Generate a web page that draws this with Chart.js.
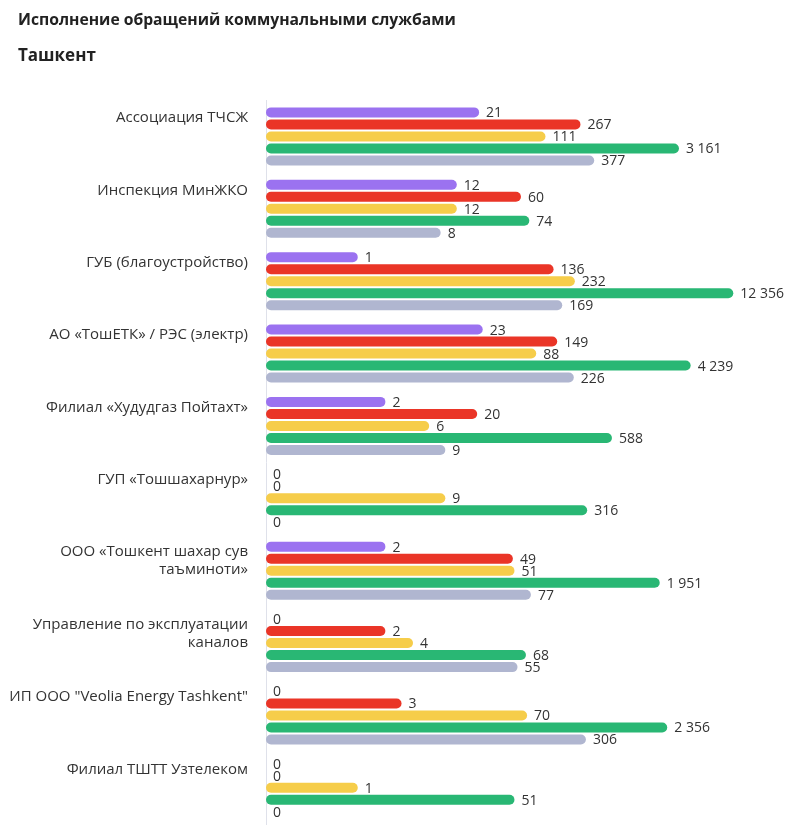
<!DOCTYPE html>
<html>
<head>
<meta charset="utf-8">
<script src="https://cdn.jsdelivr.net/npm/chart.js@4/dist/chart.umd.min.js"></script>
<style>
  html, body { margin: 0; padding: 0; background: #fff; }
  #wrap { width: 811px; height: 827px; position: relative; }
</style>
</head>
<body>
<div id="wrap"><canvas id="chart"></canvas></div>
<script>
// Category labels (multi-line labels split into arrays)
const categories = [
  ['Ассоциация ТЧСЖ'],
  ['Инспекция МинЖКО'],
  ['ГУБ (благоустройство)'],
  ['АО «ТошЕТК» / РЭС (электр)'],
  ['Филиал «Худудгаз Пойтахт»'],
  ['ГУП «Тошшахарнур»'],
  ['ООО «Тошкент шахар сув', 'таъминоти»'],
  ['Управление по эксплуатации', 'каналов'],
  ['ИП ООО "Veolia Energy Tashkent"'],
  ['Филиал ТШТТ Узтелеком']
];

// Series values, one array per colour, in category order
const purpleValues = [21, 12, 1, 23, 2, 0, 2, 0, 0, 0];
const redValues    = [267, 60, 136, 149, 20, 0, 49, 2, 3, 0];
const yellowValues = [111, 12, 232, 88, 6, 9, 51, 4, 70, 1];
const greenValues  = [3161, 74, 12356, 4239, 588, 316, 1951, 68, 2356, 51];
const greyValues   = [377, 8, 169, 226, 9, 0, 77, 55, 306, 0];

const seriesNames = ['Серия 1', 'Серия 2', 'Серия 3', 'Серия 4', 'Серия 5'];
const seriesColors = ['#9b72f0', '#ea3527', '#f6cd4a', '#29b774', '#b0b6d0'];

const FONT = '"Open Sans", Lato, sans-serif';

const formatNumber = (v) => String(v).replace(/\B(?=(\d{3})+(?!\d))/g, ' ');

// Value labels at the end of every bar
const valueLabels = {
  id: 'valueLabels',
  afterDatasetsDraw(chart) {
    const ctx = chart.ctx;
    ctx.save();
    ctx.font = '14px ' + FONT;
    ctx.fillStyle = '#333';
    ctx.textAlign = 'left';
    ctx.textBaseline = 'middle';
    chart.data.datasets.forEach((ds, di) => {
      const meta = chart.getDatasetMeta(di);
      meta.data.forEach((bar, i) => {
        ctx.fillText(formatNumber(ds.data[i]), bar.x + 7, bar.y + 1);
      });
    });
    ctx.restore();
  }
};

// Category names, top-aligned with the first bar of each group
const categoryLabels = {
  id: 'categoryLabels',
  afterDraw(chart) {
    const ctx = chart.ctx;
    const yAxis = chart.scales.y;
    ctx.save();
    ctx.font = '15px ' + FONT;
    ctx.fillStyle = '#333';
    ctx.textAlign = 'right';
    ctx.textBaseline = 'middle';
    categories.forEach((lines, i) => {
      const y = yAxis.getPixelForValue(i) - 18.5;
      lines.forEach((line, li) => {
        ctx.fillText(line, yAxis.right - 18, y + li * 18);
      });
    });
    ctx.restore();
  }
};

const valueSets = [purpleValues, redValues, yellowValues, greenValues, greyValues];

new Chart(document.getElementById('chart'), {
  type: 'bar',
  data: {
    labels: categories,
    datasets: valueSets.map((values, i) => ({
      label: seriesNames[i],
      data: values,
      backgroundColor: seriesColors[i],
      borderRadius: 5,
      borderSkipped: false,
      categoryPercentage: 0.83,
      barPercentage: 0.833
    }))
  },
  options: {
    indexAxis: 'y',
    responsive: true,
    maintainAspectRatio: false,
    animation: false,
    layout: {
      padding: { left: 18, right: 22, top: 0, bottom: 3 }
    },
    plugins: {
      legend: { display: false },
      tooltip: { enabled: false },
      title: {
        display: true,
        text: 'Исполнение обращений коммунальными службами',
        align: 'start',
        color: '#222',
        font: { family: FONT, size: 15.7, weight: 'bold' },
        padding: { top: 11, bottom: 8 }
      },
      subtitle: {
        display: true,
        text: 'Ташкент',
        align: 'start',
        color: '#222',
        font: { family: FONT, size: 17, weight: 'bold' },
        padding: { top: 8, bottom: 34 }
      }
    },
    scales: {
      x: {
        type: 'logarithmic',
        min: 0.1,
        max: 50000,
        bounds: 'data',
        display: false
      },
      y: {
        grid: { display: false },
        border: { display: true, color: '#dfe1ea', width: 1 },
        ticks: { display: false },
        afterFit: (scale) => { scale.width = 248; }
      }
    }
  },
  plugins: [valueLabels, categoryLabels]
});
</script>
</body>
</html>
